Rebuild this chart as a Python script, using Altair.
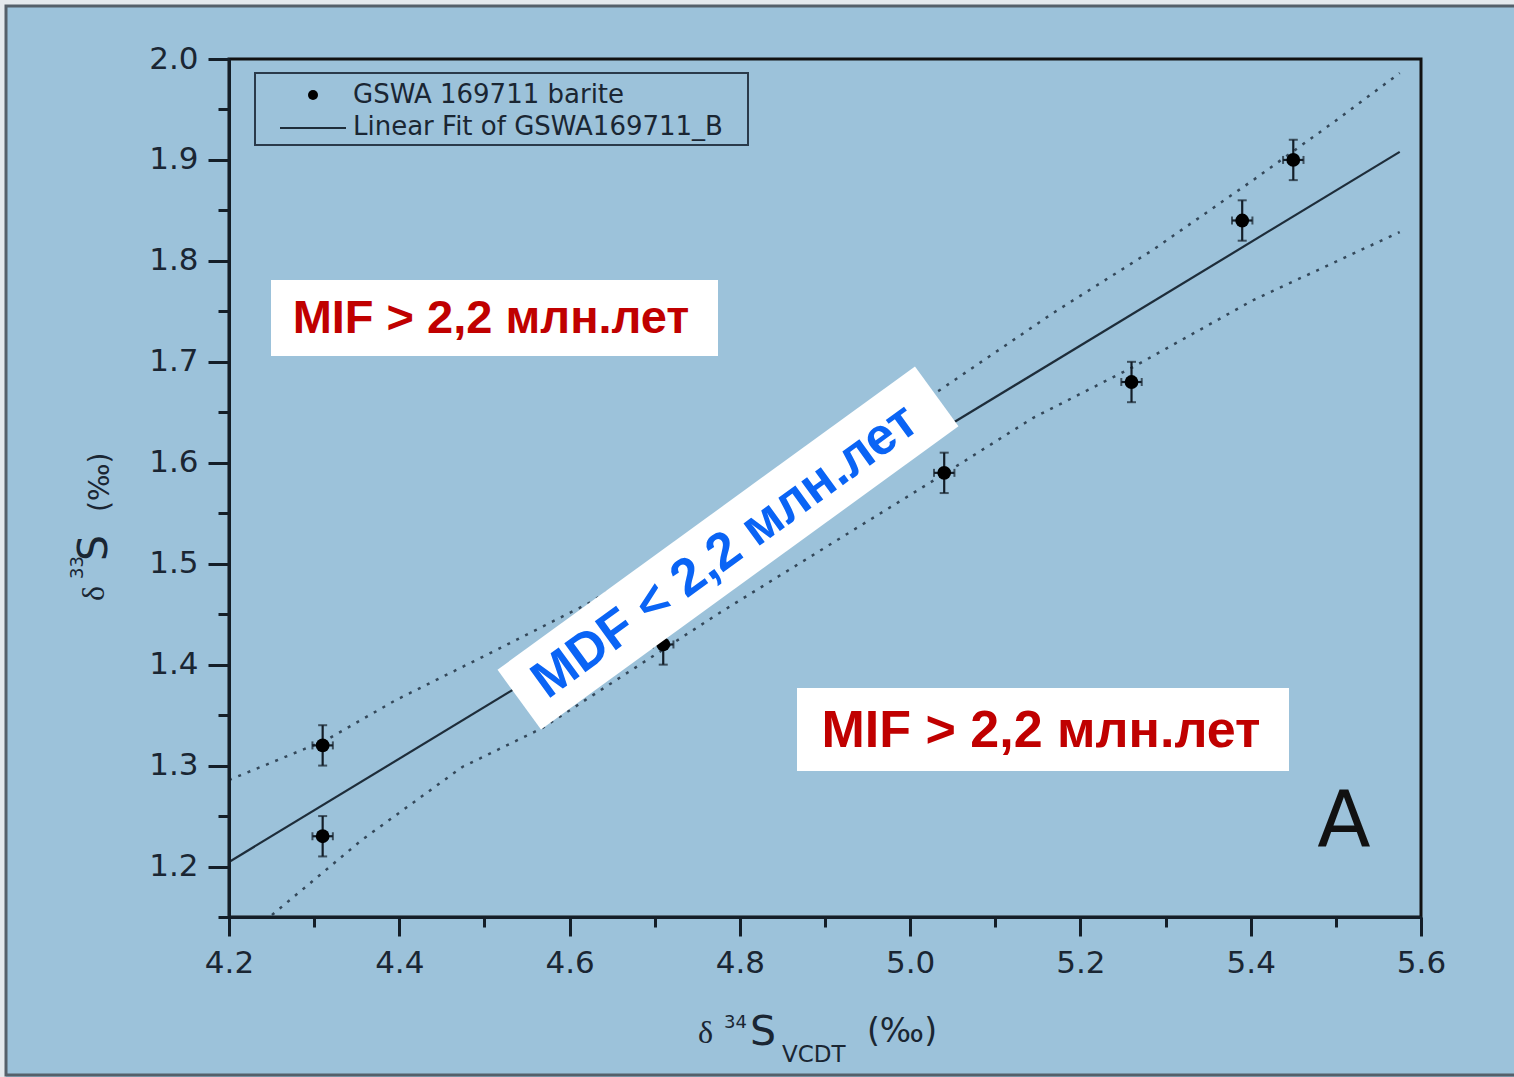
import altair as alt
import pandas as pd

# ---- data ----
x_vals = [4.31, 4.31, 4.71, 5.04, 5.26, 5.39, 5.45]
y_vals = [1.32, 1.23, 1.42, 1.59, 1.68, 1.84, 1.90]
y_err = [0.02, 0.02, 0.02, 0.02, 0.02, 0.02, 0.02]
x_err = [0.012, 0.012, 0.012, 0.012, 0.012, 0.012, 0.012]

fit_x = [4.2, 5.575]
fit_y = [1.2045, 1.908]

upper_x = [4.2, 4.314, 4.396, 4.514, 4.623, 5.035, 5.168, 5.285, 5.403, 5.501, 5.575]
upper_y = [1.2857, 1.3253, 1.3649, 1.4145, 1.4611, 1.6721, 1.7484, 1.8108, 1.8801, 1.9396, 1.9861]

lower_x = [4.2505, 4.356, 4.474, 4.568, 4.776, 5.04, 5.144, 5.262, 5.403, 5.575]
lower_y = [1.152, 1.2263, 1.2986, 1.3372, 1.4512, 1.589, 1.6443, 1.6949, 1.7612, 1.8286]

x_ticks = [4.2, 4.3, 4.4, 4.5, 4.6, 4.7, 4.8, 4.9, 5.0, 5.1, 5.2, 5.3, 5.4, 5.5, 5.6]
y_ticks = [1.15, 1.2, 1.25, 1.3, 1.35, 1.4, 1.45, 1.5, 1.55, 1.6, 1.65, 1.7, 1.75,
           1.8, 1.85, 1.9, 1.95, 2.0]

legend_labels = ["GSWA 169711 barite", "Linear Fit of GSWA169711_B"]
mif_label = "MIF > 2,2 млн.лет"
mdf_label = "MDF < 2,2 млн.лет"
panel_label = "A"

# ---- tables ----
pts = pd.DataFrame({"x": x_vals, "y": y_vals, "ye": y_err, "xe": x_err})
pts["ylo"] = pts["y"] - pts["ye"]
pts["yhi"] = pts["y"] + pts["ye"]
pts["xlo"] = pts["x"] - pts["xe"]
pts["xhi"] = pts["x"] + pts["xe"]
fit = pd.DataFrame({"x": fit_x, "y": fit_y})
up = pd.DataFrame({"x": upper_x, "y": upper_y})
lo = pd.DataFrame({"x": lower_x, "y": lower_y})

INK = "#141e28"
LAB = "#1a2633"
FONT = "Liberation Sans"
WIDE = "DejaVu Sans"
BG = "#9cc2da"

xscale = alt.Scale(domain=[4.2, 5.6], nice=False, zero=False)
yscale = alt.Scale(domain=[1.15, 2.0], nice=False, zero=False)

x_major = "round(datum.value*10) % 2 === 0"
y_major = "abs(datum.value*10 - round(datum.value*10)) < 0.01"

xaxis = alt.Axis(
    values=x_ticks, title=None, grid=False, zindex=2,
    labelExpr=f"{x_major} ? format(datum.value, '.1f') : ''",
    tickSize={"condition": {"test": x_major, "value": 19}, "value": 10},
    labelOverlap=False, labelFlush=False, labelPadding=12,
    labelFont=WIDE, labelFontSize=31, labelColor=LAB,
    domainColor=INK, domainWidth=3, tickColor=INK, tickWidth=3,
)
yaxis = alt.Axis(
    values=y_ticks, title=None, grid=False, zindex=2,
    labelExpr=f"{y_major} ? format(datum.value, '.1f') : ''",
    tickSize={"condition": {"test": y_major, "value": 21}, "value": 11},
    labelOverlap=False, labelFlush=False, labelPadding=10,
    labelFont=WIDE, labelFontSize=31, labelColor=LAB,
    domainColor=INK, domainWidth=3, tickColor=INK, tickWidth=3,
)


def X(f):
    return alt.X(f, type="quantitative", scale=xscale, axis=xaxis)


def Y(f):
    return alt.Y(f, type="quantitative", scale=yscale, axis=yaxis)


one = alt.Data(values=[{}])

# outer light strip and grey frame of the picture
strip = alt.Chart(one).mark_rect(
    fillOpacity=0, stroke="#e4e9ed", strokeWidth=12, clip=False
).encode(x=alt.value(-229), x2=alt.value(1300), y=alt.value(-59), y2=alt.value(1024))
frame = alt.Chart(one).mark_rect(
    fillOpacity=0, stroke="#55606a", strokeWidth=3, clip=False
).encode(x=alt.value(-223), x2=alt.value(1292), y=alt.value(-53), y2=alt.value(1016))

band_up = alt.Chart(up).mark_line(
    color="#34485a", strokeWidth=2.5, strokeDash=[3, 7], clip=True
).encode(x=X("x"), y=Y("y"))
band_lo = alt.Chart(lo).mark_line(
    color="#34485a", strokeWidth=2.5, strokeDash=[3, 7], clip=True
).encode(x=X("x"), y=Y("y"))
fit_line = alt.Chart(fit).mark_line(color="#1e2d3a", strokeWidth=2.2, clip=True).encode(
    x=X("x"), y=Y("y")
)

base = alt.Chart(pts)
ybar = base.mark_rule(color=INK, strokeWidth=2.2).encode(x=X("x"), y=Y("ylo"), y2="yhi")
xbar = base.mark_rule(color=INK, strokeWidth=2.2).encode(x=X("xlo"), x2="xhi", y=Y("y"))
ycap_lo = base.mark_tick(color=INK, orient="horizontal", size=9, thickness=2).encode(x=X("x"), y=Y("ylo"))
ycap_hi = base.mark_tick(color=INK, orient="horizontal", size=9, thickness=2).encode(x=X("x"), y=Y("yhi"))
xcap_lo = base.mark_tick(color=INK, orient="vertical", size=8, thickness=2).encode(x=X("xlo"), y=Y("y"))
xcap_hi = base.mark_tick(color=INK, orient="vertical", size=8, thickness=2).encode(x=X("xhi"), y=Y("y"))
dots = base.mark_point(filled=True, color="#000000", size=190, opacity=1).encode(x=X("x"), y=Y("y"))

# panel letter
letter = alt.Chart(one).mark_text(
    font=WIDE, fontSize=78, color="#111111", align="center", baseline="alphabetic"
).encode(x=alt.value(1115), y=alt.value(788), text=alt.value(panel_label))

# legend (drawn)
leg_box = alt.Chart(one).mark_rect(fill=BG, stroke="#2a3a4a", strokeWidth=2).encode(
    x=alt.value(26), x2=alt.value(519), y=alt.value(14), y2=alt.value(86)
)
leg_dot = alt.Chart(one).mark_point(filled=True, color="#000000", size=100, opacity=1).encode(
    x=alt.value(84), y=alt.value(36)
)
leg_line = alt.Chart(one).mark_rule(color="#1e2d3a", strokeWidth=2).encode(
    x=alt.value(51), x2=alt.value(117), y=alt.value(69)
)
leg_t1 = alt.Chart(one).mark_text(
    font=WIDE, fontSize=26, color=LAB, align="left", baseline="middle"
).encode(x=alt.value(124), y=alt.value(36), text=alt.value(legend_labels[0]))
leg_t2 = alt.Chart(one).mark_text(
    font=WIDE, fontSize=26, color=LAB, align="left", baseline="middle"
).encode(x=alt.value(124), y=alt.value(68), text=alt.value(legend_labels[1]))

# white label boxes
box1 = alt.Chart(one).mark_rect(fill="white").encode(
    x=alt.value(42), x2=alt.value(489), y=alt.value(221), y2=alt.value(297)
)
txt1 = alt.Chart(one).mark_text(
    font=FONT, fontSize=47, fontWeight="bold", color="#c00000", align="center", baseline="middle"
).encode(x=alt.value(262), y=alt.value(260), text=alt.value(mif_label))
box2 = alt.Chart(one).mark_rect(fill="white").encode(
    x=alt.value(568), x2=alt.value(1060), y=alt.value(629), y2=alt.value(712)
)
txt2 = alt.Chart(one).mark_text(
    font=FONT, fontSize=52, fontWeight="bold", color="#c00000", align="center", baseline="middle"
).encode(x=alt.value(812), y=alt.value(672), text=alt.value(mif_label))

half = 37.0 / 258.0
rect_path = f"M -1 {-half:.4f} L 1 {-half:.4f} L 1 {half:.4f} L -1 {half:.4f} Z"
mdf_box = alt.Chart(one).mark_point(
    shape=rect_path, filled=True, color="white", opacity=1, size=516 * 516, angle=324
).encode(x=alt.value(499), y=alt.value(489))
mdf_txt = alt.Chart(one).mark_text(
    font=FONT, fontSize=52, fontWeight="bold", color="#0a64f5", align="center",
    baseline="middle", angle=324
).encode(x=alt.value(496), y=alt.value(492), text=alt.value(mdf_label))


# axis titles (drawn with super/subscripts)
def t(txt, x, y, size, font=WIDE, angle=0):
    kw = dict(font=font, fontSize=size, color=LAB, align="left", baseline="alphabetic")
    if angle:
        kw["angle"] = angle
    return alt.Chart(one).mark_text(**kw).encode(
        x=alt.value(x), y=alt.value(y), text=alt.value(txt)
    )


xt = [
    t("δ", 469, 984, 32, font="Liberation Serif"),
    t("34", 495, 969, 18),
    t("S", 521, 986, 41),
    t("VCDT", 553, 1003, 23),
    t("(‰)", 638, 983, 33),
]
yt = [
    t("δ", -125, 542, 32, font="Liberation Serif", angle=270),
    t("33", -146, 520, 18, angle=270),
    t("S", -122, 502, 41, angle=270),
    t("(‰)", -120, 453, 28, angle=270),
]

chart = alt.layer(
    strip, frame, band_up, band_lo, fit_line,
    ybar, xbar, ycap_lo, ycap_hi, xcap_lo, xcap_hi, dots,
    letter, leg_box, leg_dot, leg_line, leg_t1, leg_t2,
    box1, txt1, box2, txt2, mdf_box, mdf_txt,
    *xt, *yt,
).properties(
    width=1192, height=858,
    padding={"left": 229, "top": 59, "right": 93, "bottom": 160},
    autosize=alt.AutoSizeParams(type="none"),
).configure(
    background=BG
).configure_view(
    stroke="#111111", strokeWidth=3
)

chart.save("out.html", embed_options={"renderer": "svg", "actions": False})
